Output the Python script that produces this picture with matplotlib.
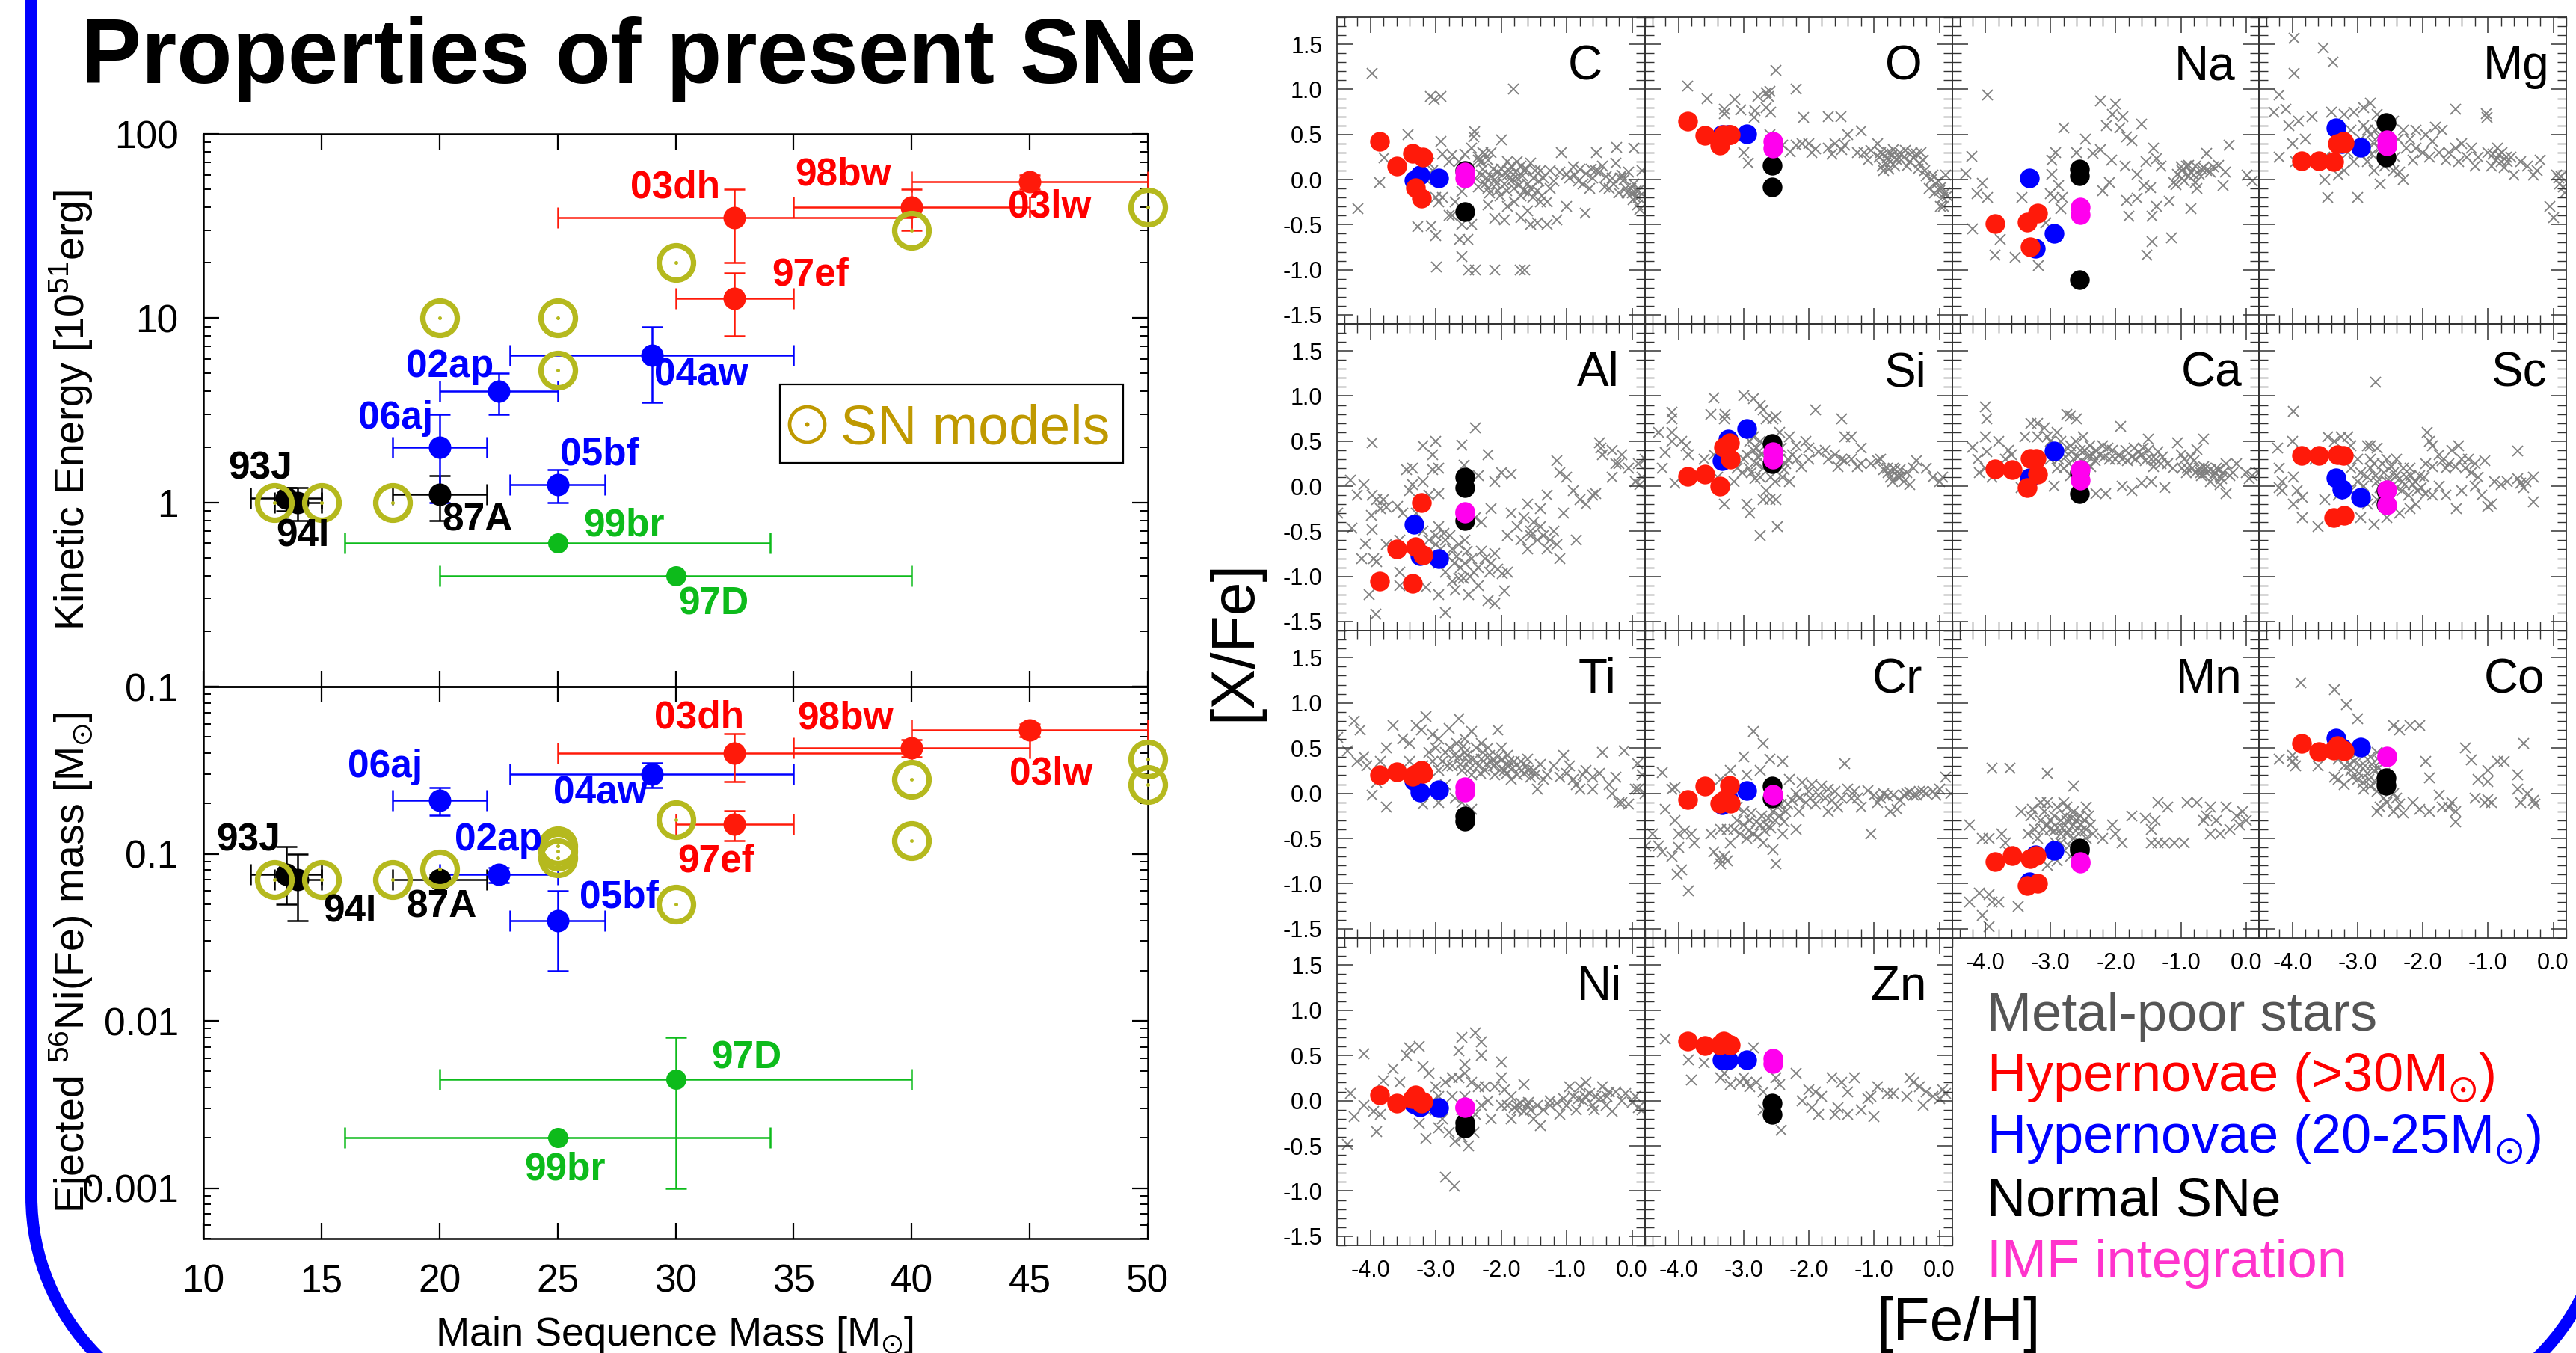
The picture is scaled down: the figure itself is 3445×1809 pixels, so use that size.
import matplotlib
matplotlib.use("Agg")
import matplotlib.pyplot as plt
from matplotlib.patches import Arc, Rectangle
from matplotlib.ticker import FixedLocator, MultipleLocator, NullFormatter, LogLocator

plt.rcParams['font.family'] = ['Liberation Sans', 'DejaVu Sans']
plt.rcParams['mathtext.fontset'] = 'custom'
plt.rcParams['mathtext.rm'] = 'Liberation Sans'
plt.rcParams['mathtext.it'] = 'Liberation Sans:italic'
plt.rcParams['mathtext.bf'] = 'Liberation Sans:bold'
plt.rcParams['mathtext.fallback'] = 'stixsans'

W, H = 3445, 1809

# ---- left plots : name, mass, mass low, mass high, value, value low, value high
red_E = [("03dh", 32.5, 25, 40, 35, 20, 50), ("98bw", 40, 35, 45, 40, 30, 50),
         ("03lw", 45, 40, 50, 55, 50, 60), ("97ef", 32.5, 30, 35, 12.8, 8, 17.5)]
blue_E = [("04aw", 29, 23, 35, 6.3, 3.5, 9), ("02ap", 22.5, 20, 25, 4, 3, 5),
          ("06aj", 20, 18, 22, 2, 1, 3), ("05bf", 25, 23, 27, 1.25, 1, 1.5)]
black_E = [("87A", 20, 18, 22, 1.1, 0.8, 1.4), ("93J", 13.5, 12, 15, 1.05, 0.9, 1.2),
           ("94I", 14, 13, 15, 1.0, 0.8, 1.2)]
green_E = [("99br", 25, 16, 34, 0.6, 0.6, 0.6), ("97D", 30, 20, 40, 0.4, 0.4, 0.4)]
model_E_x = [13, 15, 18, 20, 25, 25, 30, 40, 50]
model_E_y = [1, 1, 1, 10, 10, 5.2, 20, 30, 40]

red_M = [("03dh", 32.5, 25, 40, 0.4, 0.27, 0.52), ("98bw", 40, 35, 45, 0.43, 0.38, 0.48),
         ("03lw", 45, 40, 50, 0.55, 0.5, 0.6), ("97ef", 32.5, 30, 35, 0.15, 0.12, 0.18)]
blue_M = [("04aw", 29, 23, 35, 0.3, 0.25, 0.35), ("06aj", 20, 18, 22, 0.21, 0.17, 0.25),
          ("02ap", 22.5, 20, 25, 0.075, 0.067, 0.083), ("05bf", 25, 23, 27, 0.04, 0.02, 0.06)]
black_M = [("87A", 20, 18, 22, 0.07, 0.065, 0.075), ("93J", 13.5, 12, 15, 0.075, 0.05, 0.11),
           ("94I", 14, 13, 15, 0.07, 0.04, 0.1)]
green_M = [("97D", 30, 20, 40, 0.0045, 0.001, 0.008), ("99br", 25, 16, 34, 0.002, 0.002, 0.002)]
model_M_x = [13, 15, 18, 20, 25, 25, 25, 30, 30, 40, 40, 50, 50]
model_M_y = [0.07, 0.07, 0.07, 0.081, 0.095, 0.104, 0.112, 0.16, 0.05, 0.28, 0.12, 0.37, 0.26]

labels_E = [("03dh", 30, 51), ("98bw", 37.1, 60), ("03lw", 45.85, 40), ("97ef", 35.7, 17.1),
            ("02ap", 20.44, 5.46), ("04aw", 31.1, 4.89), ("06aj", 18.13, 2.84), ("05bf", 26.77, 1.81),
            ("93J", 12.4, 1.52), ("94I", 14.2, 0.655), ("87A", 21.6, 0.8), ("99br", 27.8, 0.746),
            ("97D", 31.6, 0.28)]
labels_M = [("03dh", 31, 0.65), ("98bw", 37.2, 0.64), ("03lw", 45.9, 0.3), ("97ef", 31.7, 0.09),
            ("06aj", 17.7, 0.33), ("04aw", 26.8, 0.23), ("02ap", 22.5, 0.12), ("05bf", 27.6, 0.055),
            ("93J", 11.9, 0.12), ("94I", 16.2, 0.045), ("87A", 20.1, 0.048), ("97D", 33, 0.006),
            ("99br", 25.3, 0.00129)]

# ---- right plots, same [Fe/H] for each model
red_x = [-3.86, -3.59, -3.36, -3.31, -3.22, -3.2]
blue_x = [-3.33, -3.24, -2.95]
black_x = -2.56
imf_x = -2.55
nan = float('nan')

elements = ["C", "O", "Na", "Mg", "Al", "Si", "Ca", "Sc", "Ti", "Cr", "Mn", "Co", "Ni", "Zn"]
label_x = [-0.45, -0.26, -0.16, -0.06, -0.19, -0.2, -0.06, -0.1, -0.24, -0.26, -0.06, -0.13, -0.15, -0.2]

red_y = {"C": [.42, .15, .29, -.09, -.21, .25], "O": [.65, .49, .38, .5, .5, .5],
         "Na": [-.49, nan, -.47, -.75, nan, -.37], "Mg": [.21, .21, .2, .4, .42, .41],
         "Al": [-1.05, -.7, -1.08, -.67, -.18, -.76], "Si": [.11, .13, 0, .43, .48, .3],
         "Ca": [.19, .18, -.02, .31, .31, .13], "Sc": [.34, .34, -.35, .35, .34, -.32],
         "Ti": [.2, .24, .19, .21, .25, .22], "Cr": [-.07, .08, -.11, -.08, .09, -.11],
         "Mn": [-.76, -.69, -1.02, -.72, -.69, -1.0], "Co": [.55, .46, .48, .53, .48, .47],
         "Ni": [.06, -.03, .02, .06, -.03, -.01], "Zn": [.66, .61, .62, .66, .62, .62]}
blue_y = {"C": [-.01, .05, .02], "O": [.5, .5, .51], "Na": [.02, -.76, -.6], "Mg": [.57, .4, .36],
          "Al": [-.42, -.77, -.8], "Si": [.28, .52, .64], "Ca": [.09, .3, .39], "Sc": [.09, -.03, -.12],
          "Ti": [.14, .01, .04], "Cr": [-.13, -.05, .03], "Mn": [-.98, -.68, -.63], "Co": [.61, .5, .51],
          "Ni": [-.04, -.07, -.08], "Zn": [.45, .45, .45]}
black_y = {"C": [.1, -.36], "O": [.16, -.08], "Na": [.12, .04, -1.11], "Mg": [.63, .25],
           "Al": [.1, -.02, -.38], "Si": [.47, .25], "Ca": [.15, -.08], "Sc": [-.05, -.2],
           "Ti": [-.25, -.31], "Cr": [.08, -.05], "Mn": [-.61, -.63], "Co": [.17, .09],
           "Ni": [-.24, -.3], "Zn": [-.03, -.15]}
imf_y = {"C": [.08, .02], "O": [.42, .35], "Na": [-.31, -.39], "Mg": [.44, .37], "Al": [-.3, -.28],
         "Si": [.38, .3], "Ca": [.18, .07], "Sc": [-.04, -.21], "Ti": [.07, .01], "Cr": [-.01, -.02],
         "Mn": [-.77, -.76], "Co": [.41, .4], "Ni": [-.07, -.08], "Zn": [.47, .41]}

# metal-poor stars, read by eye
star_C = [(-3.97, 1.18), (-4.19, -.32), (-3.86, -.03), (-3.79, .24), (-3.42, .5), (-3.08, .92), (-3.02, .89), (-2.92, .92),
          (-1.81, 1.0), (-2.92, .42), (-2.41, .53), (-2.42, .47), (-2, .44), (-3.28, -.52), (-3.07, -.51), (-3, -.62),
          (-2.99, -.97), (-2.63, -.66), (-2.51, -.66), (-2.6, -.85), (-2.5, -1), (-2.4, -1), (-2.1, -1), (-1.71, -1),
          (-1.64, -1), (-.72, -.37), (-1.08, .3), (-.54, .3), (-.24, .36), (.03, .35), (-2.35, .25), (-2.3, .2),
          (-2.25, .28), (-2.2, .22), (-2.15, .3), (-2.3, .05), (-2.25, -.05), (-2.2, -.1), (-2.15, .03), (-2.1, 0),
          (-2.05, .08), (-2, .12), (-1.95, -.05), (-1.9, .05), (-1.85, .15), (-1.8, -.1), (-1.75, .02), (-1.7, -.18),
          (-1.65, .1), (-1.6, -.05), (-1.55, .18), (-1.5, .02), (-1.45, -.12), (-1.4, .1), (-1.35, .02), (-1.3, -.25),
          (-1.25, .1), (-1.2, -.02), (-1.1, .08), (-1, .06), (-.9, .14), (-.8, .12), (-.75, -.05), (-.7, .07),
          (-.6, .02), (-.55, .1), (-.5, .08), (-.45, .15), (-.4, .03), (-.35, -.1), (-.3, .02), (-.25, .18), (-.2, -.15),
          (-.15, .05), (-.1, -.1), (-.05, .08), (0, -.15), (.03, -.05), (.05, -.2), (.08, -.28), (.1, -.12), (.12, -.33),
          (.15, .1), (-1.9, -.3), (-1.95, -.45), (-1.7, -.42), (-1.55, -.5), (-1.45, -.48), (-1.3, -.5), (-1.15, -.45),
          (-2.2, -.28), (-2.1, -.43), (-1.8, -.25), (-1.6, -.35), (-1.4, -.25), (-1, -.3), (-3, -.2), (-2.95, -.25),
          (-2.8, -.4), (-2.75, -.4), (-2.9, -.2), (-2.7, -.25), (-2.6, -.13), (-2.5, -.35), (-2.45, -.5), (-2.8, .2),
          (-2.75, .27), (-2.65, .2), (-2.55, .28), (-2.5, .12), (-2.45, .35), (-2.9, .28), (-3.05, .1), (-3.1, .18),
          (-3.15, 0), (-2.6, -.5), (-1.7, .15), (-1.55, -.1), (-1.85, -.02), (-2.05, -.12), (-1.65, -.12), (-.95, .02),
          (-2.4, .02), (-2.35, -.08), (-2.28, .12), (-2.22, .02), (-2.18, -.15), (-2.12, .12), (-2.08, -.05), (-2.02, -.18),
          (-1.98, .05), (-1.92, -.12), (-1.88, .1), (-1.82, 0), (-1.78, .08), (-1.72, -.06), (-1.68, .04), (-1.62, .12),
          (-1.58, -.15), (-1.52, -.2), (-1.48, .1), (-1.42, -.02), (-1.38, -.18), (-1.25, -.1), (-.88, .05), (-.82, -.02),
          (-.65, -.1), (-.62, .12), (-.42, -.08), (-.28, -.05), (-.18, .02), (-.12, 0), (-.08, -.15), (-.02, -.1), (.02, -.22),
          (.06, -.12), (.1, -.2), (-1.9, .2), (-1.75, .2), (-2.35, .22), (-2.28, .3)]
star_O = [(-3.86, 1.04), (-3.56, .9), (-3.14, .89), (-3.29, .78), (-3.3, .73), (-3.04, .77), (-2.82, .76), (-2.84, .69),
          (-2.78, .92), (-2.65, .96), (-2.6, .98), (-2.62, .92), (-2.65, .8), (-2.58, .75), (-2.5, 1.21), (-2.2, 1.0),
          (-2.08, .69), (-1.7, .7), (-1.51, .7), (-1.2, .54), (-1.4, .5), (-3, .3), (-2.93, .18), (-2.29, .31),
          (-2.4, .38), (-2.2, .38), (-2.1, .4), (-2.0, .4), (-1.95, .3), (-1.9, .34), (-1.7, .35), (-1.65, .28),
          (-1.6, .4), (-1.5, .33), (-1.45, .38), (-1.25, .3), (-1.15, .3), (-1.1, .22), (-1.05, .32), (-.95, .4),
          (-.9, .3), (-.88, .15), (-.85, .1), (-.8, .24), (-.78, .3), (-.75, .2), (-.7, .33), (-.65, .22), (-.6, .3),
          (-.55, .25), (-.5, .15), (-.45, .2), (-.4, .24), (-.35, .28), (-.3, .18), (-.25, .22), (-.2, .04), (-.15, -.1),
          (-.1, .05), (-.05, -.05), (0, -.12), (.05, -.2), (.08, -.15), (.1, .05), (.02, -.3), (-2.6, .5), (-2.55, .35),
          (-.92, .25), (-.87, .28), (-.82, .18), (-.77, .12), (-.72, .27), (-.68, .15), (-.62, .25), (-.52, .32), (-.42, .3),
          (-.33, .12), (-.28, .3), (-.22, .1), (-.12, 0), (-.07, -.15), (-.02, -.02), (.03, -.08), (.06, -.3), (.12, -.18)]
star_Na = [(-3.97, .94), (-4.21, .26), (-4.3, .07), (-4.05, -.04), (-4.13, -.16), (-3.97, -.2), (-4.2, -.55), (-3.77, -.66),
           (-3.85, -.84), (-3.55, -.86), (-3.19, -.95), (-3.44, -.2), (-2.8, .57), (-2.92, .3), (-2.98, .22), (-2.98, .06),
           (-2.88, -.07), (-2.47, .45), (-2.6, .3), (-2.35, .29), (-2.23, .33), (-2.06, .22), (-1.86, .15), (-1.67, .06),
           (-1.54, .2), (-1.42, .35), (-1.37, .23), (-1.3, .15), (-1.57, -.07), (-1.47, -.09), (-2.1, -.03), (-2.2, -.12),
           (-3.0, -.16), (-2.95, -.2), (-2.82, -.2), (-2.85, -.32), (-3.07, -.48), (-2.23, .87), (-2.01, .84), (-2.05, .72),
           (-1.89, .7), (-2.14, .6), (-1.6, .61), (-1.94, .57), (-1.83, .47), (-1.75, .43), (-1.52, -.84), (-1.44, -.69),
           (-1.14, -.65), (-1.83, -.23), (-1.8, -.41), (-1.44, -.41), (-1.37, -.3), (-1.18, -.24), (-.85, -.32), (-1.67, -.21),
           (-1.11, -.03), (-1.05, .06), (-.98, .1), (-.92, .15), (-.85, .08), (-.78, .15), (-.72, .06), (-.65, .13), (-.55, .08),
           (-.42, .16), (-.78, -.03), (-.75, -.1), (-.35, -.07), (-.32, .08), (-.98, .02), (-.88, .04), (-.26, .38), (-.6, .29),
           (-1.0, .14), (-.95, -.02), (-.8, .05), (-.68, .12), (-.6, .1), (-.5, .14), (-.88, .16), (-1.07, -.06), (.02, .05), (.1, -.02)]
star_Mg = [(-3.97, 1.57), (-3.53, 1.46), (-3.38, 1.3), (-3.97, 1.18), (-4.2, .94), (-4.28, .75), (-4.1, .78), (-4.05, .6),
           (-3.9, .65), (-3.7, .7), (-3.8, .45), (-4.0, .4), (-4.2, .25), (-3.95, .2), (-3.7, .2), (-3.5, .25), (-3.4, .75),
           (-3.3, .55), (-3.2, .72), (-3.1, .55), (-3.05, .75), (-2.9, .8), (-2.8, .85), (-2.7, .72), (-2.65, .6), (-2.45, .65),
           (-2.3, .55), (-2.2, .45), (-2.1, .55), (-1.95, .5), (-1.8, .58), (-1.7, .55), (-1.9, .25), (-1.75, .3), (-1.6, .3),
           (-1.5, .35), (-1.4, .4), (-1.25, .35), (-1.15, .25), (-1.0, .3), (-.95, .15), (-.85, .35), (-.8, .2), (-.7, .2),
           (-.65, .25), (-.6, .05), (-.5, .2), (-.4, .15), (-.3, .05), (-.25, .1), (.05, .05), (.1, -.05), (.15, -.08), (-.05, -.3),
           (-.0, -.42), (-1.5, .78), (-1.03, .73), (-1.02, .69), (-3.5, 0), (-3.45, -.2), (-3.0, -.2), (-2.65, -.05), (-2.3, 0),
           (-3.3, .05), (-3.15, .3), (-3.05, .2), (-2.95, .45), (-2.85, .55), (-2.75, .4), (-2.65, .35), (-2.55, .5), (-2.5, .2),
           (-2.45, .1), (-2.35, .08), (-2.85, .2), (-2.75, .1), (-3.2, .1), (-2.1, .35), (-2.0, .3), (-1.2, .15), (-.2, .22),
           (-3.0, .35), (-2.95, .28), (-2.9, .6), (-2.85, .35), (-2.8, .5), (-2.78, .28), (-2.72, .55), (-2.68, .48), (-2.62, .3),
           (-2.58, .15), (-2.48, .38), (-2.42, .25), (-2.38, .45), (-2.25, .35), (-2.15, .22), (-1.85, .42), (-1.65, .22),
           (-1.45, .2), (-1.32, .25), (-.92, .28), (-.88, .22), (-.83, .27), (-.78, .3), (-.75, .13), (-.72, .25), (.08, .02), (.12, .03), (.18, -.15)]
star_Al = [(-4.3, .07), (-4.1, .02), (-3.97, .48), (-4.2, -.1), (-3.9, -.15), (-3.8, -.15), (-3.97, -.1), (-4.5, -.3),
           (-4.28, -.46), (-3.98, -.32), (-3.85, -.25), (-3.75, -.23), (-3.97, -.48), (-4.08, -.64), (-4.13, -.8), (-3.95, -.8),
           (-3.9, -.84), (-4.02, -1.2), (-3.92, -1.42), (-3.75, -.65), (-3.58, -.22), (-3.45, .18), (-3.35, .2), (-3.35, .02),
           (-3.4, -.05), (-3.5, -.3), (-3.55, -.6), (-3.55, -.95), (-3.55, -1.1), (-3.2, .45), (-3.0, .5), (-3.05, .35), (-2.95, .2),
           (-3.05, .18), (-3.2, .05), (-3.1, -.1), (-2.95, -.08), (-2.6, .46), (-2.57, .23), (-2.4, .65), (-2.2, .35), (-2.35, .12),
           (-2.1, .05), (-3.3, -.3), (-3.2, -.5), (-3.1, -.6), (-3.0, -.55), (-2.95, -.45), (-2.85, -.6), (-2.75, -.7), (-2.65, -.65),
           (-2.55, -.6), (-3.15, -.75), (-3.05, -.8), (-2.95, -.85), (-2.85, -.95), (-2.75, -1.05), (-2.65, -1.02), (-2.55, -.85),
           (-2.45, -.8), (-2.35, -.9), (-2.25, -.8), (-2.15, -.85), (-2.05, -.92), (-1.9, -.95), (-1.95, -1.16), (-2.85, -1.4),
           (-3.15, -1.12), (-2.95, -1.2), (-2.7, -1.15), (-2.5, -1.2), (-2.35, -1.1), (-2.2, -1.27), (-2.1, -1.3), (-2.4, -.35),
           (-2.3, -.4), (-2.15, -.25), (-2, .15), (-1.85, .13), (-1.85, -.3), (-1.75, -.45), (-1.65, -.35), (-1.55, -.5), (-1.45, -.6),
           (-1.5, -.4), (-1.3, -.7), (-1.2, -.5), (-1.1, -.8), (-1.05, -.3), (-1.15, .28), (-1.1, .15), (-1.0, .1), (-.9, -.05),
           (-.8, -.15), (-.85, -.6), (-.7, -.2), (-.5, .48), (-.48, .42), (-.45, .35), (-.3, .4), (-.25, .25), (-.15, .35), (-.05, .2),
           (.1, .25), (.15, .1), (.2, .3), (.05, .05), (.12, .02), (-.3, .1), (-.2, .25), (-.6, -.1), (-.55, -.08), (-1.9, -.55),
           (-3.0, -.65), (-2.92, -.7), (-2.88, -.52), (-2.82, -.78), (-2.78, -.55), (-2.72, -.85), (-2.68, -.78), (-2.62, -.9),
           (-2.58, -1.02), (-2.52, -.72), (-2.48, -1.0), (-2.42, -.95), (-2.3, -.72), (-2.18, -.95), (-2.1, -.75), (-1.98, -.97),
           (-1.7, -.6), (-1.6, -.7), (-1.4, -.45), (-1.35, -.55), (-1.25, -.6), (-1.15, -.65), (-1.6, -.2), (-1.4, -.25), (-1.3, -.1), (-1.55, -.55)]
star_Si = [(-4.3, .6), (-4.1, .82), (-4.1, .75), (-4.1, .6), (-4.1, .5), (-3.95, .5), (-3.88, .45), (-4.2, .37), (-4.25, .2),
           (-4.05, .03), (-3.85, .35), (-3.6, .3), (-3.5, .8), (-3.45, .98), (-3.3, .75), (-3.28, .8), (-3, 1.0), (-2.85, .97), (-2.75, .9),
           (-2.7, .85), (-2.65, .75), (-2.55, .75), (-2.5, .77), (-2.45, .6), (-2.3, .55), (-2.2, .45), (-2.05, .5), (-2.0, .3),
           (-1.9, .85), (-1.5, .75), (-1.45, .55), (-1.35, .55), (-1.2, .42), (-2.0, .42), (-1.85, .38), (-1.75, .4), (-1.6, .35),
           (-1.5, .3), (-1.45, .28), (-1.35, .3), (-1.25, .22), (-1.2, .25), (-1.05, .25), (-.95, .28), (-.9, .3), (-.85, .18),
           (-.8, .2), (-.75, .1), (-.7, .2), (-.65, .12), (-.6, .18), (-.55, .05), (-.5, .15), (-.45, .02), (-.4, .2), (-.35, .28),
           (-.2, .2), (-.1, .1), (0, .05), (.05, .1), (-3.45, .35), (-3.4, .1), (-3.3, -.2), (-3.1, .2), (-3.0, .3), (-2.95, .35),
           (-2.85, .4), (-2.8, .25), (-2.75, .1), (-2.7, .2), (-2.95, -.2), (-2.65, -.05), (-2.7, -.15), (-2.6, -.15), (-2.5, -.15),
           (-2.48, -.45), (-2.75, -.55), (-2.9, -.3), (-2.4, .1), (-2.35, .25), (-2.3, .05), (-2.25, .35), (-2.6, .4), (-2.45, .3),
           (-3.15, .05), (-2.9, .5), (-2.85, .55), (-2.75, .5), (-2.55, .2), (-2.8, .42), (-2.72, .35), (-2.68, .45), (-2.62, .3),
           (-2.58, .1), (-2.52, .05), (-2.42, .42), (-2.38, .18), (-2.32, .3), (-2.18, .3), (-2.12, .22), (-2.88, .15), (-2.82, .08),
           (-2.78, .32), (-2.92, .2), (-3.02, .15), (-1.7, .3), (-1.55, .22), (-.78, .15), (-.72, .05), (-.68, .18), (-.62, .1), (-.58, .12)]
star_Ca = [(-4.0, .88), (-3.98, .75), (-4.0, .55), (-4.2, .43), (-3.98, .38), (-3.8, .5), (-3.65, .4), (-3.7, .3), (-4.1, .15),
           (-4.12, .3), (-4.0, .2), (-3.9, .1), (-3.6, .35), (-3.4, .55), (-3.3, .7), (-3.2, .7), (-3.1, .65), (-3.05, .55), (-2.75, .8),
           (-2.7, .78), (-2.6, .75), (-2.5, .55), (-2.85, .5), (-2.8, .4), (-2.7, .45), (-2.65, .3), (-2.55, .4), (-2.45, .25),
           (-2.4, .45), (-2.35, .35), (-2.3, .4), (-2.2, .45), (-2.1, .3), (-2.05, .4), (-1.95, .35), (-1.9, .3), (-1.85, .4),
           (-1.93, .66), (-1.75, .32), (-1.7, .3), (-1.6, .35), (-1.55, .28), (-1.5, .4), (-1.45, .3), (-1.35, .38), (-1.3, .25),
           (-1.2, .25), (-1.5, .52), (-1.05, .48), (-1.0, .35), (-.95, .3), (-.9, .2), (-.85, .32), (-.8, .28), (-.7, .15),
           (-.65, .22), (-.6, .15), (-.55, .18), (-.5, .12), (-.45, .2), (-.4, .1), (-.35, .15), (-.3, .25), (-.25, .12),
           (-.2, .15), (-.15, .25), (-.75, .41), (-.65, .52), (0, .15), (.05, .08), (.1, .12), (.2, .15), (-.55, .05), (-.4, .02),
           (-.3, -.08), (-2.55, -.05), (-2.3, -.08), (-2.15, -.08), (-1.9, 0), (-1.75, -.05), (-1.6, .03), (-1.45, .05), (-1.25, -.02),
           (-3.0, .3), (-2.9, .2), (-2.8, .2), (-3.3, 0), (-3.45, -.02), (-2.95, 0), (-2.7, .12), (-2.6, .1), (-3.2, .55), (-2.9, .6),
           (-3.0, .5), (-2.92, .42), (-2.88, .3), (-2.78, .32), (-2.72, .25), (-2.68, .38), (-2.62, .5), (-2.58, .32), (-2.52, .28),
           (-2.48, .4), (-2.42, .33), (-2.38, .22), (-2.32, .28), (-2.25, .35), (-2.18, .32), (-2.12, .42), (-2.0, .3), (-1.82, .28),
           (-1.72, .42), (-1.65, .38), (-1.58, .42), (-1.42, .22), (-1.38, .3), (-1.28, .32), (-1.12, .2), (-.98, .2), (-.92, .15),
           (-.82, .2), (-.78, .15), (-.72, .2), (-.68, .12), (-.62, .2), (-.48, .15), (-.42, .18), (-.38, .08)]
star_Sc = [(-3.98, .83), (-2.72, 1.15), (-4.22, .42), (-4.0, .5), (-4.2, .2), (-4.15, .05), (-4.2, -.02), (-4.15, -.05),
           (-3.98, .1), (-3.92, -.05), (-3.85, -.12), (-3.98, -.2), (-3.85, -.35), (-3.65, .3), (-3.45, .55), (-3.35, .5), (-3.25, .55),
           (-3.15, .55), (-3.1, .45), (-2.85, .45), (-2.8, .45), (-2.7, .42), (-2.55, .3), (-2.4, .3), (-1.93, .6), (-1.9, .5),
           (-1.85, .45), (-1.75, .35), (-1.7, .28), (-1.55, .4), (-1.45, .45), (-1.3, .3), (-1.2, .25), (-1.05, .28), (-1.15, .1),
           (-1.2, 0), (-1.1, -.1), (-.95, -.2), (-.9, .05), (-.8, .02), (-.7, .05), (-.54, .39), (-.55, .08), (-.5, .03), (-.42, .05),
           (-.3, .1), (-.45, -.02), (-.3, -.17), (-1.0, -.22), (-1.49, -.25), (-2.8, .3), (-2.75, .25), (-3.0, .3), (-3.1, .2), (-2.95, .15),
           (-2.85, .1), (-2.7, .05), (-2.6, .15), (-2.5, .05), (-2.45, .15), (-2.4, -.02), (-2.35, .08), (-2.25, .1), (-2.15, .02),
           (-2.05, .12), (-1.95, -.08), (-1.85, -.1), (-1.75, 0), (-1.65, -.1), (-2.2, -.25), (-2.1, -.2), (-2.35, -.3), (-2.55, -.35),
           (-2.75, -.42), (-2.95, -.35), (-3.3, -.1), (-3.5, -.15), (-3.6, -.45), (-2.85, -.2), (-2.7, -.15), (-3.1, -.05), (-3.0, .05),
           (-2.9, 0), (-2.65, -.02), (-2.55, .05), (-2.3, .2), (-2.2, .2), (-1.95, .25), (-1.85, .22), (-1.65, .2),
           (-2.8, .2), (-2.72, .12), (-2.62, .25), (-2.58, -.1), (-2.48, .22), (-2.42, .1), (-2.32, -.05), (-2.28, .02), (-2.22, -.1),
           (-2.18, .12), (-2.12, .05), (-2.08, -.05), (-2.02, -.02), (-1.98, .1), (-1.6, .25), (-1.5, .22), (-1.4, .3), (-1.35, .2), (-1.25, .15), (-1.4, -.05)]
star_Ti = [(-4.5, .62), (-4.25, .8), (-4.15, .7), (-4.35, .47), (-4.2, .35), (-4.05, .3), (-4.1, .4), (-3.85, .35), (-3.75, .5),
           (-3.65, .75), (-3.9, .12), (-3.97, -.02), (-3.75, -.15), (-3.5, .6), (-3.4, .55), (-3.3, .75), (-3.22, .7), (-3.15, .85),
           (-3.05, .65), (-2.95, .6), (-2.8, .72), (-2.65, .82), (-2.55, .6), (-2.45, .68), (-2.3, .55), (-2.2, .5), (-2.05, .7),
           (-2.0, .5), (-1.9, .42), (-1.8, .35), (-1.7, .35), (-1.6, .38), (-1.5, .25), (-1.4, .32), (-1.3, .2), (-1.2, .3), (-1.05, .42),
           (-1.0, .22), (-.9, .15), (-.85, .1), (-.75, .2), (-.7, .25), (-.6, .18), (-.5, .22), (-.45, .45), (-.35, .1), (-.3, 0),
           (-.25, .18), (-.2, -.1), (-.15, -.1), (-.12, .47), (-.05, -.12), (.05, .05), (.08, .33), (.1, .05), (.15, .2), (.2, 0),
           (-3.4, .35), (-3.2, .3), (-3.05, .35), (-2.95, .25), (-2.85, .45), (-2.75, .3), (-2.65, .4), (-2.6, .25), (-2.55, .45),
           (-2.5, .35), (-2.45, .2), (-2.35, .3), (-2.3, .38), (-2.25, .25), (-2.15, .35), (-2.1, .2), (-2.05, .4), (-1.95, .25),
           (-1.9, .3), (-1.85, .15), (-1.75, .2), (-1.65, .22), (-1.55, .18), (-1.45, .05), (-1.35, .15), (-2.85, .1), (-2.7, -.05),
           (-2.6, -.1), (-2.45, -.18), (-2.95, -.1), (-3.2, -.12), (-.6, .05), (-.8, .05), (-.95, .3), (-1.1, .18),
           (-3.1, .45), (-3.0, .5), (-2.9, .35), (-2.82, .3), (-2.78, .5), (-2.72, .42), (-2.68, .55), (-2.62, .32), (-2.58, .52),
           (-2.52, .42), (-2.48, .28), (-2.42, .38), (-2.38, .5), (-2.32, .22), (-2.28, .45), (-2.22, .32), (-2.18, .42), (-2.12, .3),
           (-2.08, .33), (-2.02, .25), (-1.98, .38), (-1.92, .22), (-1.88, .35), (-1.82, .28), (-1.72, .28), (-1.62, .3), (-1.58, .25), (-1.48, .2)]
star_Cr = [(-4.25, .23), (-4.1, .05), (-4.05, .06), (-4.2, -.18), (-4.4, -.45), (-4.5, -.58), (-4.3, -.58), (-4.25, -.65),
           (-4.1, -.7), (-4.0, -.6), (-4.02, -.9), (-3.95, -.85), (-3.85, -1.08), (-4.0, -.45), (-3.9, -.42), (-3.8, -.45), (-4.05, -.3),
           (-3.75, -.55), (-3.5, -.45), (-3.45, -.65), (-3.38, -.72), (-3.35, -.78), (-3.3, -.7), (-3.25, -.75), (-3.2, -.55), (-3.35, -.4),
           (-3.25, -.4), (-3.15, -.4), (-3.05, -.45), (-2.95, -.5), (-2.85, -.45), (-2.75, -.35), (-2.65, -.35), (-2.55, -.2), (-2.45, -.25),
           (-2.35, -.2), (-2.4, -.45), (-2.2, -.4), (-2.5, -.78), (-2.55, -.62), (-2.7, -.55), (-3.0, -.2), (-2.9, -.3), (-3.1, -.15),
           (-3.0, .4), (-2.85, .68), (-2.7, .55), (-2.6, .38), (-2.4, .35), (-3.2, .25), (-3.35, .15), (-2.95, .2), (-2.75, .25),
           (-2.3, .15), (-2.2, 0), (-2.1, .12), (-2.0, .02), (-1.95, .1), (-1.85, -.02), (-1.8, .08), (-1.7, .05), (-1.6, .02), (-1.5, -.05),
           (-1.45, .33), (-1.4, .05), (-1.35, -.05), (-1.3, .02), (-1.2, -.15), (-1.1, .03), (-1.05, -.45), (-.95, -.1), (-.85, 0),
           (-.75, -.2), (-.7, -.02), (-.6, -.08), (-.5, 0), (-.4, -.02), (-.3, .02), (-.2, 0), (-.1, .02), (-.05, -.02), (0, .05), (.1, .18),
           (.18, 0), (-.65, -.18), (-2.15, -.2), (-1.9, -.12), (-1.7, -.2), (-1.55, -.15), (-3.1, -.3), (-3.0, -.35), (-2.92, -.42),
           (-2.88, -.22), (-2.8, -.32), (-2.78, -.48), (-2.72, -.25), (-2.68, -.42), (-2.62, -.28), (-2.58, -.38), (-2.52, -.3),
           (-2.48, -.15), (-2.42, -.12), (-2.38, -.32), (-2.32, -.12), (-2.25, -.08), (-2.15, -.05), (-2.05, -.1), (-1.98, -.05), (-1.75, -.05),
           (-1.65, -.08), (-1.25, -.05), (-1.0, -.02), (-.9, -.05), (-.8, -.03), (-.55, -.02), (-.45, .01), (-.35, -.02), (-.25, .02)]
star_Mn = [(-3.9, .28), (-3.62, .28), (-3.05, .22), (-2.65, .08), (-4.25, -.35), (-4.05, -.5), (-3.95, -.5), (-3.75, -.45),
           (-3.45, -.2), (-3.3, -.25), (-3.15, -.1), (-3.05, -.1), (-2.9, -.15), (-2.75, -.15), (-2.65, -.2), (-2.55, -.25), (-2.45, -.15),
           (-2.95, -.25), (-2.85, -.3), (-2.75, -.3), (-2.65, -.35), (-2.55, -.35), (-2.45, -.4), (-3.15, -.3), (-3.05, -.35), (-2.95, -.42),
           (-2.85, -.45), (-2.75, -.45), (-2.65, -.5), (-2.55, -.55), (-2.45, -.5), (-2.35, -.45), (-3.35, -.45), (-3.25, -.4), (-3.2, -.5),
           (-3.7, -.55), (-3.65, -.65), (-3.05, -.8), (-2.9, -.75), (-2.7, -.7), (-2.5, -.7), (-4.25, -1.2), (-4.1, -1.1), (-3.95, -1.12),
           (-3.9, -1.2), (-3.8, -1.2), (-4.05, -1.35), (-3.95, -1.48), (-3.5, -1.25), (-2.2, -.5), (-2.05, -.35), (-2.0, -.45), (-1.9, -.55),
           (-1.75, -.25), (-1.55, -.28), (-1.45, -.4), (-1.4, -.3), (-1.35, -.1), (-1.2, -.15), (-1.45, -.55), (-1.35, -.55), (-1.25, -.55),
           (-1.1, -.55), (-.95, -.55), (-.9, -.1), (-.75, -.1), (-.65, -.3), (-.6, -.25), (-.55, -.45), (-.45, -.3), (-.55, -.15),
           (-.4, -.45), (-.3, -.15), (-.25, -.4), (-.15, -.25), (-.05, -.2), (-.1, -.35), (0, -.3), (-3.0, -.4), (-2.8, -.1), (-2.6, -.3),
           (-3.1, -.2), (-3.0, -.3), (-2.9, -.38), (-2.82, -.38), (-2.78, -.25), (-2.72, -.4), (-2.68, -.28), (-2.62, -.42), (-2.58, -.28),
           (-2.52, -.42), (-2.48, -.3), (-2.42, -.25), (-2.38, -.35), (-3.28, -.18), (-3.12, -.4), (-2.92, -.55), (-2.85, -.55), (-2.72, -.58), (-2.58, -.62)]
star_Co = [(-3.87, 1.22), (-3.35, 1.15), (-3.17, .98), (-3.0, .82), (-2.05, .75), (-2.2, .75), (-2.35, .7), (-2.45, .75),
           (-4.2, .38), (-4.0, .42), (-4.0, .35), (-3.95, .3), (-3.6, .3), (-3.3, .38), (-3.2, .3), (-3.1, .25), (-3.0, .15), (-3.05, .35),
           (-2.95, .3), (-2.85, .22), (-2.75, .25), (-2.65, .2), (-2.6, .1), (-2.5, .15), (-2.9, .05), (-2.8, .08), (-2.7, .02), (-2.6, -.05),
           (-2.8, .4), (-2.7, .45), (-2.65, .35), (-2.9, .42), (-3.0, .45), (-3.2, .1), (-3.3, .15), (-3.35, .18), (-2.45, 0), (-2.4, -.05),
           (-2.55, -.1), (-2.65, -.15), (-2.45, -.2), (-2.35, -.12), (-2.7, -.2), (-2.3, -.22), (-2.15, -.1), (-2.05, -.18), (-1.95, .35),
           (-1.9, .17), (-1.9, -.2), (-1.75, -.02), (-1.7, -.15), (-1.55, -.1), (-1.6, -.15), (-1.5, -.2), (-1.5, -.32), (-1.35, .5),
           (-1.25, .37), (-1.15, .15), (-1.2, -.05), (-1.05, -.1), (-.95, -.1), (-.85, .35), (-1.0, .25), (-1.0, .13), (-1.0, -.07),
           (-.75, .35), (-.55, .2), (-.45, .55), (-.55, .05), (-.4, 0), (-.5, -.1), (-.3, -.08), (-.28, -.12), (-2.98, .22), (-2.92, .12),
           (-2.88, .3), (-2.82, .15), (-2.78, .32), (-2.72, .12), (-2.68, .28), (-2.62, .08), (-2.58, .22), (-3.12, .32), (-3.08, .18)]
star_Ni = [(-4.3, .08), (-4.25, -.18), (-4.1, .52), (-4.35, -.48), (-4.1, -.05), (-3.95, -.12), (-3.85, -.15), (-3.9, -.34),
           (-3.8, .22), (-3.65, .35), (-3.55, .2), (-3.45, .5), (-3.4, .58), (-3.25, .6), (-3.2, .38), (-3.1, .3), (-3.0, .15), (-3.15, -.1),
           (-3.25, -.25), (-3.15, -.42), (-2.95, -.3), (-2.9, -.2), (-2.8, -.35), (-2.7, -.45), (-2.6, -.4), (-2.5, -.5), (-2.42, -.35),
           (-2.85, -.85), (-2.72, -.95), (-2.6, .7), (-2.65, .55), (-2.55, .4), (-2.4, .75), (-2.3, .65), (-2.3, .5), (-2.0, .43), (-2.0, .25),
           (-2.85, .2), (-2.75, .25), (-2.65, .25), (-2.55, .3), (-2.45, .2), (-2.35, .15), (-2.25, .15), (-2.1, .15), (-1.95, .12),
           (-1.85, .05), (-1.75, -.05), (-1.65, .18), (-1.55, -.1), (-1.45, -.05), (-1.35, -.1), (-1.25, -.05), (-1.1, -.15), (-1.0, -.05),
           (-.95, .15), (-.85, -.1), (-.8, .15), (-.75, 0), (-.7, .2), (-.6, -.05), (-.55, .05), (-.45, .15), (-.4, -.05), (-.35, .1),
           (-.3, -.12), (-.25, .1), (-.15, 0), (-.1, .08), (0, -.02), (.05, .05), (.1, -.08), (.15, -.1), (-2.15, -.2), (-2.0, -.05),
           (-1.85, -.2), (-1.75, -.1), (-1.6, -.05), (-1.5, -.2), (-1.4, -.28), (-1.25, 0), (-1.15, -.03), (-2.6, -.1), (-2.4, -.15),
           (-2.3, -.05), (-2.2, 0), (-2.95, .05), (-3.05, 0), (-2.75, .05), (-2.55, .05), (-1.05, .02), (-.9, .05), (-.82, .02), (-.72, .05),
           (-.65, .08), (-.58, -.1), (-.48, .03), (-.38, .05), (-1.9, -.05), (-1.8, -.08), (-1.7, -.03), (-1.65, -.12), (-1.58, -.02)]
star_Zn = [(-4.2, .68), (-3.85, .45), (-3.8, .23), (-3.6, .42), (-3.3, .3), (-3.35, .25), (-3.2, .18), (-3.05, .2), (-3.0, .25),
           (-2.95, .2), (-2.9, .15), (-2.8, .2), (-2.85, .58), (-2.7, .1), (-2.7, -.1), (-2.6, -.05), (-2.5, .25), (-2.45, .18), (-2.42, -.33),
           (-2.2, .3), (-2.1, 0), (-2.0, .12), (-1.95, -.08), (-1.9, .1), (-1.85, -.15), (-1.8, .05), (-1.65, .25), (-1.6, -.15), (-1.55, -.08),
           (-1.5, .2), (-1.4, .1), (-1.4, -.15), (-1.3, .25), (-1.2, -.1), (-1.1, .02), (-1.05, .05), (-1.0, -.18), (-.95, .15), (-.8, .08),
           (-.7, .08), (-.5, .05), (-.45, .25), (-.4, .2), (-.3, .15), (-.25, -.05), (-.2, .1), (-.1, .05), (0, .02), (.05, .12), (.1, .08)]
stars = {"C": star_C, "O": star_O, "Na": star_Na, "Mg": star_Mg, "Al": star_Al, "Si": star_Si, "Ca": star_Ca,
         "Sc": star_Sc, "Ti": star_Ti, "Cr": star_Cr, "Mn": star_Mn, "Co": star_Co, "Ni": star_Ni, "Zn": star_Zn}


#position d'un rectangle donné en pixels de l'image
def rect(left, top, right, bottom):
    return [left / W, 1 - bottom / H, (right - left) / W, (bottom - top) / H]


#Trace une série de SNe avec ses barres d'erreur
def draw_sne(ax, rows, color, size=30):
    for name, m, m_lo, m_hi, v, v_lo, v_hi in rows:
        ax.errorbar([m], [v], xerr=[[m - m_lo], [m_hi - m]], yerr=[[v - v_lo], [v_hi - v]], fmt='o', color=color,
                    ms=size * 0.72 - 1.8, mew=1.8, elinewidth=1.8, capsize=10, zorder=3, clip_on=False)


#Anneaux des modèles
def draw_models(ax, xs, ys):
    ax.plot(xs, ys, 'o', mfc='none', mec='#B5B91E', ms=46 * 0.72, mew=5.2, zorder=4, clip_on=False)
    ax.plot(xs, ys, 'o', color='#B5B91E', ms=5 * 0.72, mew=0, zorder=4, clip_on=False)


#Réglage commun des deux panneaux de gauche
def setup_left(ax, ylim, yticks, ylabels):
    ax.set_xlim(10, 50)
    ax.set_yscale('log')
    ax.set_ylim(*ylim)
    ax.set_xticks([10, 15, 20, 25, 30, 35, 40, 45, 50])
    ax.yaxis.set_major_locator(FixedLocator(yticks))
    ax.yaxis.set_minor_locator(LogLocator(base=10, subs=(2, 3, 4, 5, 6, 7, 8, 9), numticks=12))
    ax.yaxis.set_minor_formatter(NullFormatter())
    ax.set_yticklabels(ylabels)
    ax.tick_params(axis='both', which='major', direction='in', top=True, right=True, length=15, width=1.6,
                   labelsize=37, pad=24)
    ax.tick_params(axis='y', which='minor', direction='in', right=True, length=7.5, width=1.4)
    for sp in ax.spines.values():
        sp.set_linewidth(1.8)


fig = plt.figure(figsize=(W / 100, H / 100), dpi=100)

# cadre bleu arrondi
back = fig.add_axes([0, 0, 1, 1], zorder=0)
back.set_xlim(0, W)
back.set_ylim(H, 0)
back.axis('off')
back.plot([42, 42], [0, 1600], color='#0000FF', lw=11.5, solid_capstyle='butt')
back.add_patch(Arc((342, 1600), 600, 600, theta1=90, theta2=180, color='#0000FF', lw=11.5))
back.add_patch(Arc((3184, 1600), 600, 600, theta1=0, theta2=90, color='#0000FF', lw=11.5))

fig.text(108 / W, 1 - 111 / H, "Properties of present SNe", fontsize=87.5, fontweight='bold', color='black')

ax_e = fig.add_axes(rect(272, 179, 1535, 918), zorder=2)
setup_left(ax_e, (0.1, 100), [0.1, 1, 10, 100], ["0.1", "1", "10", "100"])
ax_e.tick_params(axis='x', labelbottom=False)
draw_sne(ax_e, green_E, '#0DBB1B', 27)
draw_sne(ax_e, black_E, 'black')
draw_sne(ax_e, blue_E, '#0000FF')
draw_sne(ax_e, red_E, '#FF1A0A')
draw_models(ax_e, model_E_x, model_E_y)

ax_m = fig.add_axes(rect(272, 918, 1535, 1656), zorder=2)
ax_m.patch.set_alpha(0)
setup_left(ax_m, (0.0005, 1), [0.001, 0.01, 0.1, 1], ["0.001", "0.01", "0.1", ""])
draw_sne(ax_m, green_M, '#0DBB1B', 27)
draw_sne(ax_m, black_M, 'black')
draw_sne(ax_m, blue_M, '#0000FF')
draw_sne(ax_m, red_M, '#FF1A0A')
draw_models(ax_m, model_M_x, model_M_y)


#Couleur du nom selon la série
def label_color(name):
    if name in ("03dh", "98bw", "03lw", "97ef"):
        return '#FF0000'
    if name in ("04aw", "02ap", "06aj", "05bf"):
        return '#0000FF'
    if name in ("99br", "97D"):
        return '#0DBB1B'
    return 'black'


for ax, labels in ((ax_e, labels_E), (ax_m, labels_M)):
    for name, lx, ly in labels:
        ax.text(lx, ly, name, color=label_color(name), fontsize=37, fontweight='bold', ha='center', va='center',
                zorder=6, clip_on=False)

# boite SN models
ax_e.add_patch(Rectangle((1043 / W, 1 - 619 / H), (1502 - 1043) / W, (619 - 514) / H, transform=fig.transFigure,
                         fc='white', ec='black', lw=1.6, zorder=5))
ax_e.plot([1079 / W], [1 - 567 / H], 'o', mfc='none', mec='#BF9900', ms=47 * 0.72, mew=3.4,
          transform=fig.transFigure, zorder=6, clip_on=False)
ax_e.plot([1079 / W], [1 - 567 / H], 'o', color='#BF9900', ms=6 * 0.72, mew=0, transform=fig.transFigure, zorder=6,
          clip_on=False)
fig.text(1124 / W, 1 - 593 / H, "SN models", fontsize=53, color='#BF9900', zorder=10)

fig.text(113 / W, 1 - 548 / H, r"Kinetic Energy [10$^{51}$erg]", fontsize=40, rotation=90, ha='center', va='baseline',
         rotation_mode='anchor', zorder=10)
fig.text(113 / W, 1 - 1287 / H, r"Ejected $^{56}$Ni(Fe) mass [M$_{\odot}$]", fontsize=40, rotation=90, ha='center',
         va='baseline', rotation_mode='anchor', zorder=10)
fig.text(902 / W, 1 - 1800 / H, r"Main Sequence Mass [M$_{\odot}$]", fontsize=39, ha='center', va='baseline')

# panneaux de droite
col_left = [1788, 2200, 2611, 3021, 3432]
row_top = [23, 433, 843, 1254, 1665]
for i, el in enumerate(elements):
    r, c = i // 4, i % 4
    ax = fig.add_axes(rect(col_left[c], row_top[r], col_left[c + 1], row_top[r + 1]), zorder=3)
    ax.patch.set_alpha(0)
    ax.set_xlim(-4.51, 0.2)
    ax.set_ylim(-1.6, 1.8)
    ax.xaxis.set_major_locator(MultipleLocator(1))
    ax.xaxis.set_minor_locator(MultipleLocator(0.2))
    ax.yaxis.set_major_locator(MultipleLocator(0.5))
    ax.yaxis.set_minor_locator(MultipleLocator(0.1))
    show_x = (r == 3) or (r == 2 and c >= 2)
    ax.tick_params(axis='both', which='major', direction='in', top=True, right=True, length=15, width=1.1,
                   color='#333333', labelsize=22, labelleft=(c == 0), labelbottom=show_x, pad=14)
    ax.tick_params(axis='both', which='minor', direction='in', top=True, right=True, length=8.5, width=1.0,
                   color='#333333')
    ax.xaxis.set_major_formatter(lambda v, p: "%.1f" % v)
    ax.yaxis.set_major_formatter(lambda v, p: "%.1f" % v)
    for sp in ax.spines.values():
        sp.set_linewidth(1.3)
        sp.set_color('#333333')
    ax.plot([p[0] for p in stars[el]], [p[1] for p in stars[el]], 'x', color='#7F7F7F', ms=9.5, mew=1.3, zorder=1)
    ax.plot(blue_x, blue_y[el], 'o', color='#0000FF', ms=19, mew=0, zorder=2)
    ax.plot([black_x] * len(black_y[el]), black_y[el], 'o', color='black', ms=19, mew=0, zorder=3)
    ax.plot([imf_x] * len(imf_y[el]), imf_y[el], 'o', color='#FF00EE', ms=19, mew=0, zorder=4)
    ax.plot(red_x, red_y[el], 'o', color='#FF1A0A', ms=19, mew=0, zorder=5)
    ax.text(label_x[i], 1.11, el, fontsize=46, ha='right', va='baseline', zorder=6)

fig.text(1651 / W, 1 - 857 / H, "[X/Fe]", fontsize=58, rotation=90, ha='center', va='center')
fig.text(2619 / W, 1 - 1792 / H, "[Fe/H]", fontsize=58, ha='center', va='baseline')

legend_names = ["Metal-poor stars", r"Hypernovae (>30M$_{\odot}$)", r"Hypernovae (20-25M$_{\odot}$)", "Normal SNe",
                "IMF integration"]
legend_colors = ['#555555', '#FF0000', '#0000FF', 'black', '#FF33CC']
legend_base = [1378, 1460, 1542, 1626, 1708]
for name, col, yb in zip(legend_names, legend_colors, legend_base):
    fig.text(2657 / W, 1 - yb / H, name, fontsize=52, color=col, va='baseline', zorder=10)

fig.savefig("out.png", dpi=100)
